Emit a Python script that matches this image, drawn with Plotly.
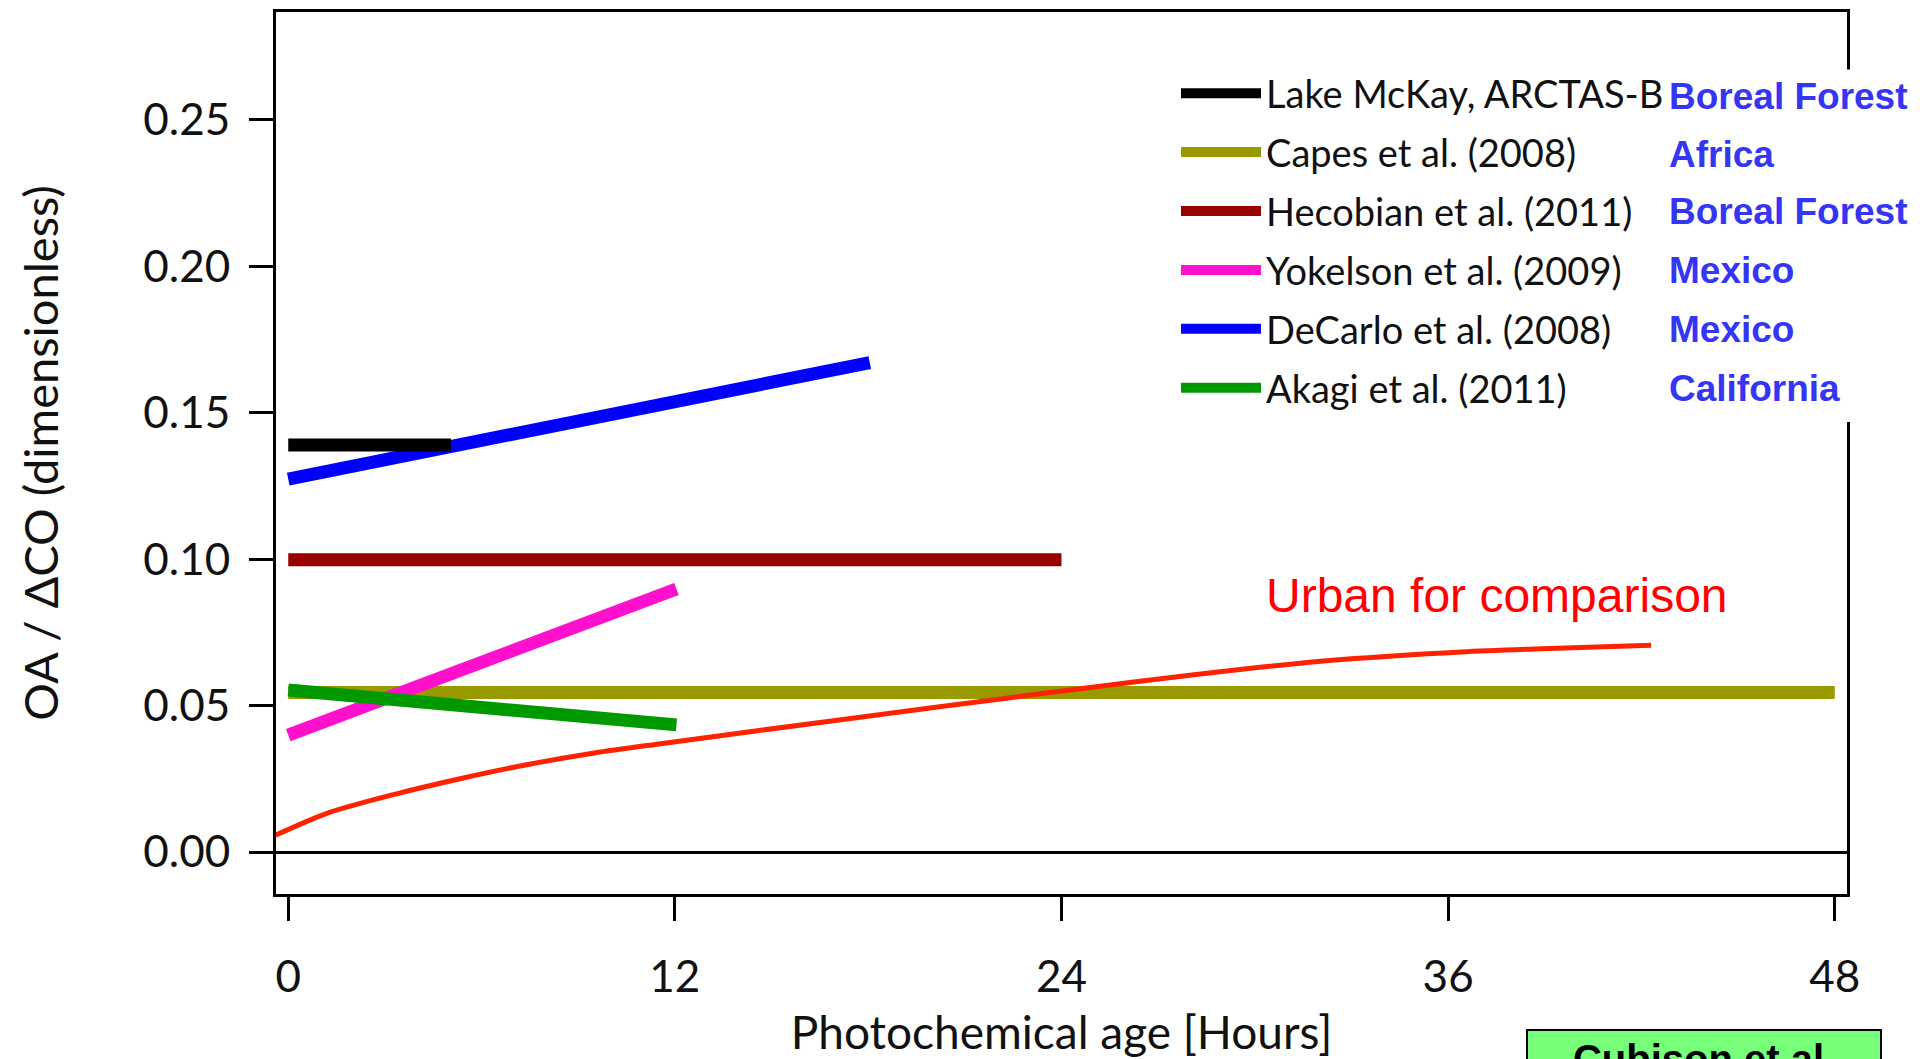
import plotly.graph_objects as go

# ---------------- data ----------------
lake_x = [0, 5.05]
lake_y = [0.139, 0.139]
capes_x = [0, 48]
capes_y = [0.0545, 0.0545]
hecobian_x = [0, 24]
hecobian_y = [0.0998, 0.0998]
yokelson_x = [0, 12.05]
yokelson_y = [0.0399, 0.0898]
decarlo_x = [0, 18.05]
decarlo_y = [0.1273, 0.1671]
akagi_x = [0, 12.05]
akagi_y = [0.0553, 0.0434]
urban_x = [-0.4, 1.2, 3.3, 5.4, 7.4, 9.5, 11.5, 17.1, 23.4, 26.5, 29.6, 32.7, 36.4, 38.9, 42.3]
urban_y = [0.0057, 0.0132, 0.0197, 0.0252, 0.0298, 0.0338, 0.0369, 0.0451, 0.0541, 0.0584,
           0.0624, 0.0657, 0.0683, 0.0694, 0.0706]

names = ["Lake McKay, ARCTAS-B", "Capes et al. (2008)", "Hecobian et al. (2011)",
         "Yokelson et al. (2009)", "DeCarlo et al. (2008)", "Akagi et al. (2011)"]
regions = ["Boreal Forest", "Africa", "Boreal Forest", "Mexico", "Mexico", "California"]
x_ticks = [0, 12, 24, 36, 48]
y_ticks = [0.00, 0.05, 0.10, 0.15, 0.20, 0.25]

# ---------------- layout helpers ----------------
W, H = 1920, 1059
ML, MR, MT, MB = 276, 73, 12, 165
PW, PH = W - ML - MR, H - MT - MB


def px(X):
    return (X - ML) / PW


def py(Y):
    return (H - MB - Y) / PH


LW = 13
fig = go.Figure()
# draw order (bottom to top): olive, dark red, blue, black, magenta, green, urban
fig.add_trace(go.Scatter(x=capes_x, y=capes_y, mode="lines", name=names[1], legendrank=2,
                         legendgroup="b", line=dict(color="#999900", width=LW)))
fig.add_trace(go.Scatter(x=hecobian_x, y=hecobian_y, mode="lines", name=names[2], legendrank=3,
                         legendgroup="c", line=dict(color="#990000", width=LW)))
fig.add_trace(go.Scatter(x=decarlo_x, y=decarlo_y, mode="lines", name=names[4], legendrank=5,
                         legendgroup="e", line=dict(color="#0000FF", width=LW)))
fig.add_trace(go.Scatter(x=lake_x, y=lake_y, mode="lines", name=names[0], legendrank=1,
                         legendgroup="a", line=dict(color="#000000", width=LW)))
fig.add_trace(go.Scatter(x=yokelson_x, y=yokelson_y, mode="lines", name=names[3], legendrank=4,
                         legendgroup="d", line=dict(color="#FF10CC", width=LW)))
fig.add_trace(go.Scatter(x=akagi_x, y=akagi_y, mode="lines", name=names[5], legendrank=6,
                         legendgroup="f", line=dict(color="#009900", width=LW)))
fig.add_trace(go.Scatter(x=urban_x, y=urban_y, mode="lines", showlegend=False,
                         line=dict(color="#FF2200", width=5, shape="spline", smoothing=0.8)))

font_main = "Lato, 'Open Sans', sans-serif"
axis_common = dict(showline=True, linecolor="black", linewidth=3, mirror=True,
                   ticks="outside", ticklen=24, tickwidth=3, tickcolor="black",
                   showgrid=False, automargin=False,
                   tickfont=dict(family=font_main, size=44, color="#111111"))

fig.update_layout(
    width=W, height=H,
    margin=dict(l=ML, r=MR, t=MT, b=MB, autoexpand=False),
    paper_bgcolor="white", plot_bgcolor="white",
    showlegend=True,
    legend=dict(x=px(1176), y=py(62), xanchor="left", yanchor="top",
                font=dict(family=font_main, size=38, color="#111111"),
                bgcolor="rgba(0,0,0,0)", itemwidth=80, tracegroupgap=6.5,
                traceorder="grouped"),
    xaxis=dict(range=[-0.38, 48.38], tickvals=x_ticks, ticktext=[str(v) for v in x_ticks],
               zeroline=False, ticklabelstandoff=18,
               title=dict(text="Photochemical age [Hours]", standoff=20,
                          font=dict(family=font_main, size=46, color="#111111")),
               **axis_common),
    yaxis=dict(range=[-0.01434, 0.2868], tickvals=y_ticks, tickformat=".2f",
               zeroline=True, zerolinecolor="black", zerolinewidth=2.5, ticklabelstandoff=10,
               title=dict(text="OA / ΔCO (dimensionless)", standoff=70,
                          font=dict(family=font_main, size=47, color="#111111")),
               **axis_common),
)

# white panel hiding the right frame behind the region labels
fig.add_shape(type="rect", xref="paper", yref="paper", layer="above",
              x0=px(1660), x1=px(1920), y0=py(422), y1=py(76),
              fillcolor="white", line=dict(width=0))

row_y = [97, 154, 212, 271, 329, 388]
for lab, yy in zip(regions, row_y):
    fig.add_annotation(xref="paper", yref="paper", x=px(1662), y=py(yy),
                       xanchor="left", yanchor="middle", showarrow=False,
                       text="<b>%s</b>" % lab, bgcolor="white", borderpad=6,
                       font=dict(family="Liberation Sans, Arial, sans-serif", size=37,
                                 color="#3535F5"))

fig.add_annotation(xref="paper", yref="paper", x=px(1497), y=py(595),
                   xanchor="center", yanchor="middle", showarrow=False,
                   text="Urban for comparison",
                   font=dict(family="Liberation Sans, Arial, sans-serif", size=48,
                             color="#FF0000"))

fig.add_annotation(xref="paper", yref="paper", x=px(1704), y=py(1029),
                   xanchor="center", yanchor="top", showarrow=False,
                   text="<b>Cubison et al.</b>", width=340, height=90, valign="top",
                   bgcolor="#77FF7A", bordercolor="black", borderwidth=2, borderpad=6,
                   font=dict(family="Liberation Sans, Arial, sans-serif", size=40,
                             color="black"))

fig.write_html("out.html")
